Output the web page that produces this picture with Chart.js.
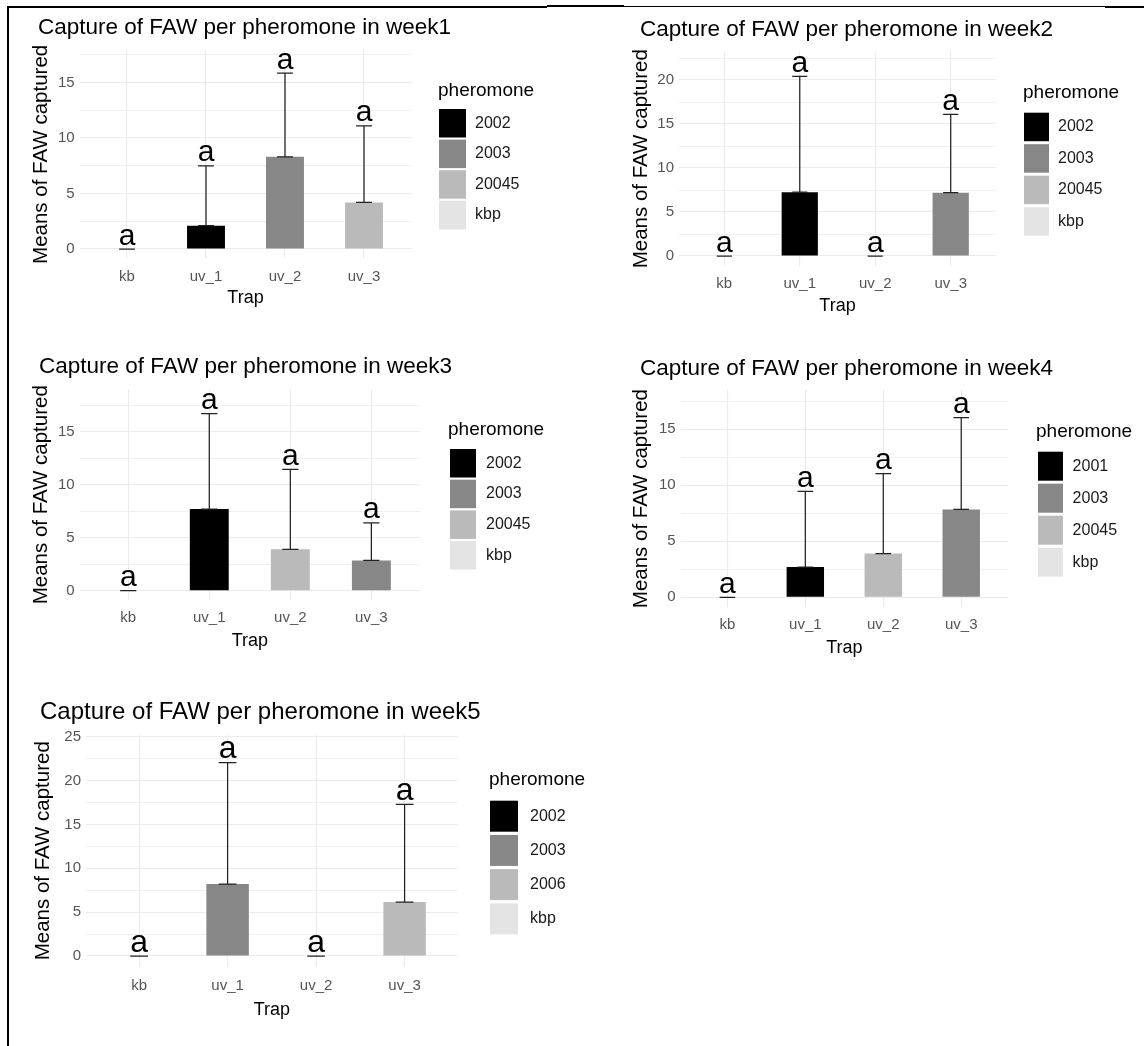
<!DOCTYPE html>
<html>
<head>
<meta charset="utf-8">
<script src="https://cdn.jsdelivr.net/npm/chart.js@4.4.1/dist/chart.umd.min.js"></script>
<style>
  html, body { margin: 0; padding: 0; background: #ffffff; }
  body { width: 1144px; height: 1046px; position: relative; overflow: hidden; }
  canvas { position: absolute; }
  .rule { position: absolute; background: #000000; }
</style>
</head>
<body>
<div class="rule" style="left:7px;top:6px;width:540px;height:2px"></div>
<div class="rule" style="left:547px;top:5px;width:77px;height:2px"></div>
<div class="rule" style="left:624px;top:6px;width:481px;height:1px"></div>
<div class="rule" style="left:1105px;top:6px;width:39px;height:2px"></div>
<div class="rule" style="left:7px;top:6px;width:2px;height:1040px"></div>
<script>
// Traps on the x axis, shared by every week
const traps = ['kb', 'uv_1', 'uv_2', 'uv_3'];
// Grey fill scale, in legend order
const greyFills = ['#000000', '#878787', '#bababa', '#e4e4e4'];

// Week 1
const week1Means = [0, 2.1, 8.3, 4.2];
const week1Sd = [0, 5.4, 7.55, 6.9];
const week1Groups = ['kbp', '2002', '2003', '20045'];
const week1Keys = ['2002', '2003', '20045', 'kbp'];
const week1Letters = ['a', 'a', 'a', 'a'];

// Week 2
const week2Means = [0, 7.25, 0, 7.2];
const week2Sd = [0, 13.15, 0, 8.9];
const week2Groups = ['kbp', '2002', '20045', '2003'];
const week2Keys = ['2002', '2003', '20045', 'kbp'];
const week2Letters = ['a', 'a', 'a', 'a'];

// Week 3
const week3Means = [0, 7.7, 3.9, 2.85];
const week3Sd = [0, 9.0, 7.55, 3.55];
const week3Groups = ['kbp', '2002', '20045', '2003'];
const week3Keys = ['2002', '2003', '20045', 'kbp'];
const week3Letters = ['a', 'a', 'a', 'a'];

// Week 4
const week4Means = [0, 2.7, 3.9, 7.85];
const week4Sd = [0, 6.75, 7.15, 8.2];
const week4Groups = ['kbp', '2001', '20045', '2003'];
const week4Keys = ['2001', '2003', '20045', 'kbp'];
const week4Letters = ['a', 'a', 'a', 'a'];

// Week 5
const week5Means = [0, 8.2, 0, 6.15];
const week5Sd = [0, 13.85, 0, 11.15];
const week5Groups = ['kbp', '2003', '2002', '2006'];
const week5Keys = ['2002', '2003', '2006', 'kbp'];
const week5Letters = ['a', 'a', 'a', 'a'];

const FONT = '"Liberation Sans", Arial, Helvetica, sans-serif';
const Y_TITLE_SIZE = 20.5;
const X_TITLE_SIZE = 18;
const LH = 1.2;

// Page placement of each panel (canvas box, plot area, text anchors)
const panels = [
  { week: 1, means: week1Means, sd: week1Sd, groups: week1Groups, keys: week1Keys, letters: week1Letters,
    box: [8, 8, 557, 322], L: 79.6, R: 411.4, zeroY: 249, ppu: 11.1, yMin: -0.85, yMax: 17.9,
    title: [38, 28, 22.5], yTitleX: 41, trapY: 297.7, tickPad: 9, letterSize: 30,
    legend: { titleX: 438, titleY: 90.7, keyX: 439, keyW: 27, keyTop: 109, keyH: 28.5, pitch: 30.6, labelX: 475 } },
  { week: 2, means: week2Means, sd: week2Sd, groups: week2Groups, keys: week2Keys, letters: week2Letters,
    box: [570, 8, 574, 322], L: 679, R: 996, zeroY: 256, ppu: 8.8, yMin: -1.1, yMax: 23.2,
    title: [640, 29.3, 22.5], yTitleX: 641, trapY: 306, tickPad: 9, letterSize: 30,
    legend: { titleX: 1023, titleY: 93, keyX: 1024, keyW: 25, keyTop: 112.7, keyH: 28.5, pitch: 31.5, labelX: 1058 } },
  { week: 3, means: week3Means, sd: week3Sd, groups: week3Groups, keys: week3Keys, letters: week3Letters,
    box: [8, 335, 557, 345], L: 79.6, R: 420, zeroY: 590.7, ppu: 10.6, yMin: -0.9, yMax: 19.0,
    title: [39, 366.7, 22.5], yTitleX: 41, trapY: 641, tickPad: 9, letterSize: 30,
    legend: { titleX: 448, titleY: 430, keyX: 450, keyW: 26, keyTop: 449, keyH: 28.5, pitch: 30.7, labelX: 486 } },
  { week: 4, means: week4Means, sd: week4Sd, groups: week4Groups, keys: week4Keys, letters: week4Letters,
    box: [570, 335, 574, 345], L: 680.6, R: 1008, zeroY: 597.3, ppu: 11.2, yMin: -0.88, yMax: 18.5,
    title: [640, 368.3, 22.5], yTitleX: 641.4, trapY: 648, tickPad: 9, letterSize: 30,
    legend: { titleX: 1036, titleY: 431.7, keyX: 1038, keyW: 25, keyTop: 451.7, keyH: 29, pitch: 32, labelX: 1072.6 } },
  { week: 5, means: week5Means, sd: week5Sd, groups: week5Groups, keys: week5Keys, letters: week5Letters,
    box: [8, 685, 612, 361], L: 86, R: 457.7, zeroY: 956, ppu: 8.77, yMin: -1.2, yMax: 25.2,
    title: [40, 712.7, 24], yTitleX: 43.5, trapY: 1010, tickPad: 10, letterSize: 32,
    legend: { titleX: 489, titleY: 780, keyX: 490, keyW: 28, keyTop: 800.7, keyH: 31, pitch: 34.2, labelX: 530 } }
];

function fillFor(keys, group) {
  return greyFills[keys.indexOf(group)];
}

// Title, legend, error bars and letter labels for one panel
function decorPlugin(p) {
  const ox = p.box[0], oy = p.box[1];
  return {
    id: 'decor' + p.week,
    afterDatasetsDraw(chart) {
      const ctx = chart.ctx;
      const xs = chart.scales.x, ys = chart.scales.y;
      const step = xs.getPixelForValue(1) - xs.getPixelForValue(0);
      const capHalf = step * 0.1;
      ctx.save();
      ctx.strokeStyle = '#222222';
      ctx.lineWidth = 1.25;
      p.means.forEach((m, i) => {
        const x = xs.getPixelForValue(i);
        const y0 = ys.getPixelForValue(m);
        const y1 = ys.getPixelForValue(m + p.sd[i]);
        ctx.beginPath();
        ctx.moveTo(x, y0); ctx.lineTo(x, y1);
        ctx.moveTo(x - capHalf, y0); ctx.lineTo(x + capHalf, y0);
        ctx.moveTo(x - capHalf, y1); ctx.lineTo(x + capHalf, y1);
        ctx.stroke();
        ctx.fillStyle = '#000000';
        ctx.font = p.letterSize + 'px ' + FONT;
        ctx.textAlign = 'center';
        ctx.textBaseline = 'alphabetic';
        ctx.fillText(p.letters[i], x, y1 - 4.5);
      });
      ctx.restore();
    },
    afterDraw(chart) {
      const ctx = chart.ctx;
      ctx.save();
      // panel title
      ctx.fillStyle = '#000000';
      ctx.font = p.title[2] + 'px ' + FONT;
      ctx.textAlign = 'left';
      ctx.textBaseline = 'middle';
      ctx.fillText('Capture of FAW per pheromone in week' + p.week, p.title[0] - ox, p.title[1] - oy);
      // legend
      const lg = p.legend;
      ctx.font = '19px ' + FONT;
      ctx.fillText('pheromone', lg.titleX - ox, lg.titleY - oy);
      ctx.font = '16px ' + FONT;
      p.keys.forEach((k, i) => {
        const top = lg.keyTop + i * lg.pitch - oy;
        ctx.fillStyle = greyFills[i];
        ctx.fillRect(lg.keyX - ox, top, lg.keyW, lg.keyH);
        ctx.fillStyle = '#1a1a1a';
        ctx.fillText(k, lg.labelX - ox, top + lg.keyH / 2);
      });
      ctx.restore();
    }
  };
}

panels.forEach(p => {
  const [bx, by, bw, bh] = p.box;
  const cv = document.createElement('canvas');
  cv.width = bw; cv.height = bh;
  cv.style.left = bx + 'px'; cv.style.top = by + 'px';
  cv.style.width = bw + 'px'; cv.style.height = bh + 'px';
  document.body.appendChild(cv);

  const T = p.zeroY - p.yMax * p.ppu;
  const B = p.zeroY - p.yMin * p.ppu;
  const yScaleLeft = p.yTitleX - Y_TITLE_SIZE * LH / 2;
  const yAxisW = p.L - yScaleLeft;
  const xAxisH = (p.trapY + X_TITLE_SIZE * LH / 2) - B;

  const points = p.means.map((m, i) => ({ x: i, y: m }));
  const colors = p.groups.map(g => fillFor(p.keys, g));

  new Chart(cv, {
    type: 'bar',
    data: {
      datasets: [{
        data: points,
        backgroundColor: colors,
        borderWidth: 0,
        barPercentage: 0.48,
        categoryPercentage: 1.0
      }]
    },
    options: {
      responsive: false,
      animation: false,
      devicePixelRatio: 1,
      layout: {
        padding: {
          left: yScaleLeft - bx,
          top: T - by,
          right: bx + bw - p.R,
          bottom: by + bh - (B + xAxisH)
        }
      },
      plugins: { legend: { display: false }, title: { display: false }, tooltip: { enabled: false } },
      scales: {
        x: {
          type: 'linear',
          offset: false,
          min: -0.6,
          max: traps.length - 0.4,
          afterBuildTicks: s => { s.ticks = traps.map((t, i) => ({ value: i })); },
          afterFit: s => { s.height = xAxisH; },
          ticks: {
            autoSkip: false, maxRotation: 0, minRotation: 0,
            padding: p.tickPad,
            color: '#555555',
            font: { family: FONT, size: 15 },
            callback: v => traps[v]
          },
          grid: { color: '#ebebeb', lineWidth: 1.1, drawTicks: false, offset: false },
          border: { display: false },
          title: {
            display: true, text: 'Trap', color: '#000000',
            font: { family: FONT, size: X_TITLE_SIZE }, padding: { top: 0, bottom: 0 }
          }
        },
        y: {
          type: 'linear',
          min: p.yMin,
          max: p.yMax,
          afterBuildTicks: s => {
            const t = [];
            for (let v = 0; v <= p.yMax; v += 2.5) t.push({ value: v });
            s.ticks = t;
          },
          afterFit: s => { s.width = yAxisW; },
          ticks: {
            padding: 5,
            color: '#555555',
            font: { family: FONT, size: 15 },
            callback: v => (v % 5 === 0 ? String(v) : '')
          },
          grid: {
            color: '#ebebeb',
            lineWidth: c => (c.tick && c.tick.value % 5 === 0 ? 1.1 : 0.8),
            drawTicks: false
          },
          border: { display: false },
          title: {
            display: true, text: 'Means of FAW captured', color: '#000000',
            font: { family: FONT, size: Y_TITLE_SIZE }, padding: { top: 0, bottom: 0 }
          }
        }
      }
    },
    plugins: [decorPlugin(p)]
  });
});
</script>
</body>
</html>
